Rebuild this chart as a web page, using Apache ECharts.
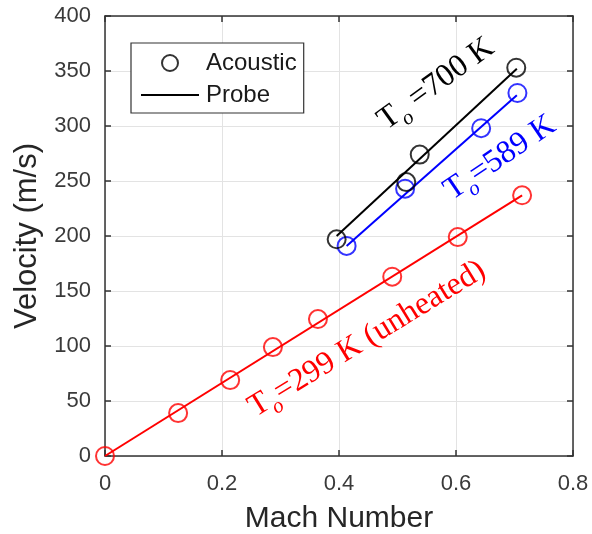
<!DOCTYPE html>
<html><head><meta charset="utf-8">
<script src="https://cdn.jsdelivr.net/npm/echarts@6/dist/echarts.min.js"></script>
<style>html,body{margin:0;padding:0;background:#fff}#c{width:592px;height:534px}</style>
</head><body><div id="c"></div>
<script>
// ---- data ----
const xTicks = [0, 0.2, 0.4, 0.6, 0.8];
const yTicks = [0, 50, 100, 150, 200, 250, 300, 350, 400];
const machRed = [0, 0.125, 0.214, 0.287, 0.364, 0.491, 0.603, 0.713];
const velRed = [0, 39, 69, 99, 124.5, 163, 199, 237];
const machBlue = [0.413, 0.513, 0.643, 0.705];
const velBlue = [191, 243, 298, 330];
const machBlack = [0.396, 0.515, 0.538, 0.703];
const velBlack = [197, 249, 274, 353];
const probeMachRed = [0, 0.713];
const probeVelRed = [0, 237];
const probeMachBlue = [0.413, 0.704];
const probeVelBlue = [191, 328];
const probeMachBlack = [0.396, 0.704];
const probeVelBlack = [200, 352];
const legendNames = ['Acoustic', 'Probe'];

const pts = (xs, ys) => xs.map((x, i) => [x, ys[i]]);
const FONT = '"Liberation Sans", Arial, sans-serif';
const SERIF = '"Liberation Serif", "Times New Roman", serif';
const AX = '#333333';

const chart = echarts.init(document.getElementById('c'), null, {renderer: 'canvas'});

function acoustic(name, xs, ys, color) {
  return {type: 'scatter', name, data: pts(xs, ys), symbol: 'circle', symbolSize: 18,
    itemStyle: {color: 'transparent', borderColor: color, borderWidth: 2}, z: 3, silent: true};
}
function probe(name, xs, ys, color) {
  return {type: 'line', name, data: pts(xs, ys), symbol: 'none', showSymbol: false,
    lineStyle: {color, width: 2}, itemStyle: {color}, z: 2, silent: true};
}
function rich(color, rest) {
  return {
    text: '{t|T}{s|o}{n|' + rest + '}',
    align: 'center', verticalAlign: 'middle', fill: color,
    rich: {
      t: {fontFamily: SERIF, fontSize: 32, fill: color, lineHeight: 44},
      s: {fontFamily: SERIF, fontSize: 21, fontStyle: 'italic', fill: color, lineHeight: 26, verticalAlign: 'bottom'},
      n: {fontFamily: SERIF, fontSize: 32, fill: color, lineHeight: 44}
    }
  };
}
const deg = d => d * Math.PI / 180;

const option = {
  animation: false,
  backgroundColor: '#fff',
  grid: {left: 105, right: 19, top: 16, bottom: 78, containLabel: false, outerBoundsMode: 'none'},
  xAxis: [{
    type: 'value', min: xTicks[0], max: xTicks[xTicks.length - 1], interval: 0.2,
    name: 'Mach Number', nameLocation: 'middle', nameGap: 48,
    nameTextStyle: {fontFamily: FONT, fontSize: 30, color: '#262626'},
    axisLine: {show: true, onZero: false, lineStyle: {color: AX, width: 1.5}},
    axisTick: {show: true, inside: true, length: 6, lineStyle: {color: AX, width: 1.5}},
    axisLabel: {fontFamily: FONT, fontSize: 22, color: '#3a3a3a', margin: 17,
      formatter: v => String(v)},
    splitLine: {show: true, lineStyle: {color: '#e3e3e3', width: 1}}
  }, {
    type: 'value', position: 'top', min: xTicks[0], max: xTicks[xTicks.length - 1], interval: 0.2,
    axisLine: {show: true, onZero: false, lineStyle: {color: AX, width: 1.5}},
    axisTick: {show: true, inside: true, length: 6, lineStyle: {color: AX, width: 1.5}},
    axisLabel: {show: false}, splitLine: {show: false}
  }],
  yAxis: [{
    type: 'value', min: yTicks[0], max: yTicks[yTicks.length - 1], interval: 50,
    name: 'Velocity (m/s)', nameLocation: 'middle', nameGap: 59,
    nameTextStyle: {fontFamily: FONT, fontSize: 31, color: '#262626'},
    axisLine: {show: true, onZero: false, lineStyle: {color: AX, width: 1.5}},
    axisTick: {show: true, inside: true, length: 6, lineStyle: {color: AX, width: 1.5}},
    axisLabel: {fontFamily: FONT, fontSize: 22, color: '#3a3a3a', margin: 14},
    splitLine: {show: true, lineStyle: {color: '#e3e3e3', width: 1}}
  }, {
    type: 'value', position: 'right', min: yTicks[0], max: yTicks[yTicks.length - 1], interval: 50,
    axisLine: {show: true, onZero: false, lineStyle: {color: AX, width: 1.5}},
    axisTick: {show: true, inside: true, length: 6, lineStyle: {color: AX, width: 1.5}},
    axisLabel: {show: false}, splitLine: {show: false}
  }],
  legend: {
    data: [{name: legendNames[0]}, {name: legendNames[1], itemStyle: {opacity: 0}}],
    orient: 'vertical', left: 131, top: 43,
    padding: [8, 7, 6, 9], itemGap: 8, itemWidth: 58, itemHeight: 16,
    backgroundColor: '#fff', borderColor: '#333', borderWidth: 1.2,
    textStyle: {fontFamily: FONT, fontSize: 24, color: '#1a1a1a', padding: [0, 0, 0, 2]},
    selectedMode: false
  },
  series: [
    probe('Probe', [], [], '#000'),
    acoustic('Acoustic', [], [], '#000'),
    probe('probeRed', probeMachRed, probeVelRed, '#ff0000'),
    probe('probeBlue', probeMachBlue, probeVelBlue, '#0000ff'),
    probe('probeBlack', probeMachBlack, probeVelBlack, '#000000'),
    acoustic('acRed', machRed, velRed, '#ff0000'),
    acoustic('acBlue', machBlue, velBlue, '#0000ff'),
    acoustic('acBlack', machBlack, velBlack, '#000000')
  ],
  graphic: [
    {type: 'text', x: 436, y: 84, rotation: deg(36), style: rich('#000000', ' =700 K'), z: 10},
    {type: 'text', x: 500, y: 158, rotation: deg(34), style: rich('#0000ff', '=589 K'), z: 10},
    {type: 'text', x: 367, y: 339, rotation: deg(31.5), style: rich('#ff0000', '=299 K (unheated)'), z: 10}
  ]
};
chart.setOption(option);
</script></body></html>
